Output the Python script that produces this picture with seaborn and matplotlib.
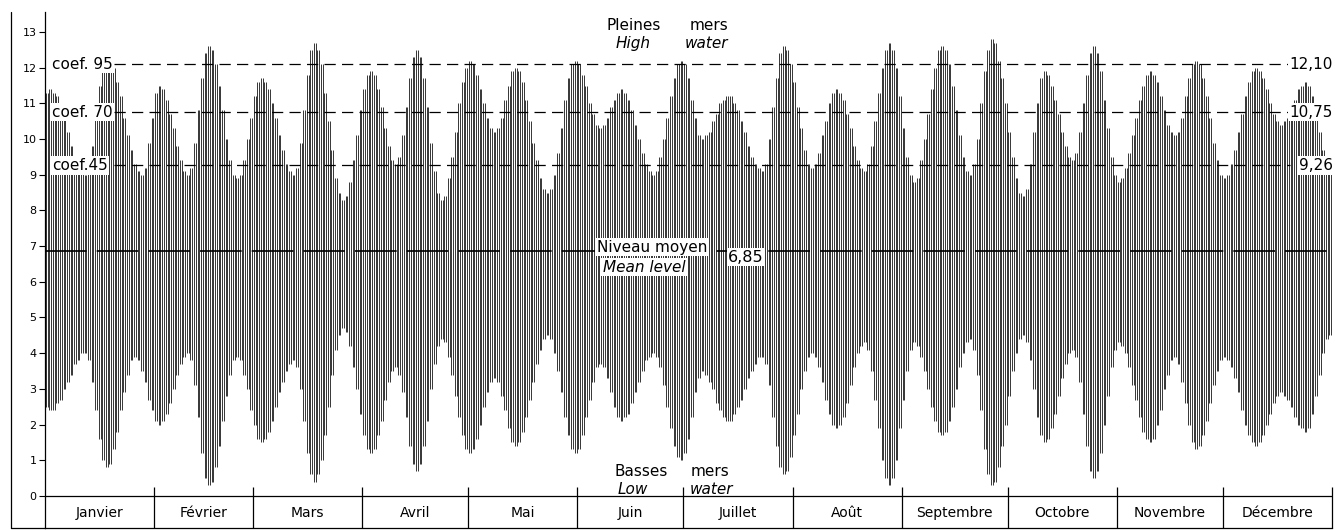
import numpy as np
import pandas as pd
import seaborn as sns
import matplotlib
matplotlib.use("Agg")
import matplotlib.pyplot as plt
from matplotlib.lines import Line2D

# Mois / months
months = ["Janvier", "Février", "Mars", "Avril", "Mai", "Juin", "Juillet",
          "Août", "Septembre", "Octobre", "Novembre", "Décembre"]
month_days = [31, 28, 31, 30, 31, 30, 31, 31, 30, 31, 30, 31]

# Pleines mers (m), une valeur par jour
high_jan = [11.3, 11.4, 11.3, 11.2, 10.9, 10.6, 10.2, 9.8, 9.5, 9.2, 9.1, 9.0, 9.2, 9.8, 10.6, 11.5,
            12.1, 12.3, 12.2, 12.0, 11.6, 11.2, 10.6, 10.1, 9.7, 9.3, 9.1, 9.0, 9.2, 9.9, 10.6]
high_feb = [11.3, 11.5, 11.4, 11.1, 10.7, 10.3, 9.8, 9.4, 9.1, 9.0, 9.2, 9.9, 10.8, 11.7, 12.4, 12.6,
            12.5, 12.1, 11.5, 10.8, 10.0, 9.4, 9.0, 8.9, 9.0, 9.4, 10.0, 10.6]
high_mar = [11.2, 11.6, 11.7, 11.6, 11.4, 11.0, 10.6, 10.1, 9.7, 9.3, 9.1, 9.0, 9.2, 9.9, 10.8, 11.8,
            12.5, 12.7, 12.5, 12.1, 11.3, 10.5, 9.7, 8.9, 8.5, 8.3, 8.4, 8.8, 9.4, 10.1, 10.8]
high_apr = [11.4, 11.8, 11.9, 11.8, 11.4, 10.9, 10.3, 9.8, 9.4, 9.3, 9.5, 10.1, 10.9, 11.7, 12.3,
            12.5, 12.3, 11.7, 10.9, 9.9, 9.1, 8.5, 8.3, 8.4, 8.9, 9.5, 10.2, 11.0, 11.6, 12.0]
high_may = [12.2, 12.1, 11.8, 11.4, 11.0, 10.6, 10.3, 10.2, 10.3, 10.6, 11.1, 11.5, 11.9, 12.0, 11.9,
            11.6, 11.1, 10.5, 9.9, 9.4, 8.9, 8.6, 8.5, 8.6, 9.0, 9.6, 10.3, 11.1, 11.7, 12.1, 12.2]
high_jun = [12.1, 11.8, 11.5, 11.0, 10.7, 10.4, 10.3, 10.4, 10.6, 10.9, 11.1, 11.3, 11.4, 11.3, 11.1,
            10.8, 10.4, 10.0, 9.6, 9.3, 9.1, 9.0, 9.1, 9.5, 10.0, 10.6, 11.2, 11.7, 12.1, 12.2]
high_jul = [12.1, 11.7, 11.1, 10.6, 10.1, 10.0, 10.1, 10.2, 10.5, 10.7, 11.0, 11.1, 11.2, 11.2, 11.0,
            10.8, 10.5, 10.2, 9.8, 9.5, 9.3, 9.2, 9.1, 9.3, 10.0, 10.9, 11.7, 12.4, 12.6, 12.5, 12.1]
high_aug = [11.6, 10.9, 10.3, 9.7, 9.3, 9.2, 9.3, 9.6, 10.1, 10.5, 11.0, 11.3, 11.4, 11.3, 11.1, 10.7,
            10.3, 9.8, 9.4, 9.2, 9.1, 9.3, 9.8, 10.5, 11.3, 12.0, 12.5, 12.7, 12.5, 12.0, 11.2]
high_sep = [10.3, 9.5, 9.0, 8.8, 8.9, 9.4, 10.0, 10.7, 11.4, 12.0, 12.5, 12.6, 12.5, 12.1, 11.5, 10.8,
            10.1, 9.5, 9.1, 9.0, 9.3, 10.0, 11.0, 11.9, 12.5, 12.8, 12.7, 12.2, 11.7, 11.0]
high_oct = [10.2, 9.5, 8.9, 8.5, 8.4, 8.6, 9.3, 10.2, 11.0, 11.7, 11.9, 11.8, 11.5, 11.1, 10.7, 10.2,
            9.8, 9.5, 9.4, 9.6, 10.2, 11.0, 11.8, 12.4, 12.6, 12.4, 11.9, 11.1, 10.3, 9.5, 9.0]
high_nov = [8.8, 8.9, 9.2, 9.6, 10.1, 10.6, 11.1, 11.5, 11.8, 11.9, 11.8, 11.6, 11.2, 10.8, 10.4, 10.2,
            10.1, 10.2, 10.6, 11.2, 11.7, 12.1, 12.2, 12.1, 11.7, 11.2, 10.6, 9.9, 9.4, 9.0]
high_dec = [8.9, 9.0, 9.3, 9.7, 10.2, 10.7, 11.2, 11.6, 11.9, 12.0, 11.9, 11.7, 11.4, 11.0, 10.7, 10.5,
            10.4, 10.5, 10.6, 10.9, 11.1, 11.4, 11.5, 11.6, 11.5, 11.2, 10.7, 10.2, 9.7, 9.4, 9.3]

# Basses mers (m)
low_jan = [2.5, 2.4, 2.4, 2.6, 2.7, 3.0, 3.2, 3.4, 3.7, 3.8, 4.0, 4.0, 3.8, 3.2, 2.4, 1.6, 1.0, 0.8,
           0.9, 1.3, 1.8, 2.4, 2.9, 3.4, 3.8, 3.9, 3.8, 3.5, 3.2, 2.7, 2.4]
low_feb = [2.1, 2.0, 2.1, 2.3, 2.6, 3.0, 3.4, 3.7, 3.9, 4.0, 3.8, 3.1, 2.2, 1.2, 0.5, 0.3, 0.4, 0.8,
           1.4, 2.1, 2.8, 3.4, 3.8, 3.9, 3.8, 3.4, 3.0, 2.4]
low_mar = [2.0, 1.6, 1.5, 1.6, 1.8, 2.1, 2.5, 2.9, 3.2, 3.5, 3.7, 3.8, 3.6, 3.0, 2.1, 1.2, 0.6, 0.4,
           0.6, 1.0, 1.7, 2.5, 3.4, 4.1, 4.5, 4.7, 4.6, 4.2, 3.6, 3.0, 2.3]
low_apr = [1.7, 1.3, 1.2, 1.3, 1.7, 2.1, 2.7, 3.2, 3.5, 3.6, 3.4, 2.9, 2.2, 1.4, 0.9, 0.7, 0.9, 1.4,
           2.1, 3.0, 3.7, 4.2, 4.4, 4.3, 3.9, 3.4, 2.8, 2.2, 1.7, 1.3]
low_may = [1.2, 1.3, 1.6, 2.0, 2.5, 2.9, 3.2, 3.3, 3.2, 2.8, 2.4, 1.9, 1.5, 1.4, 1.5, 1.8, 2.2, 2.7,
           3.2, 3.7, 4.1, 4.4, 4.5, 4.4, 4.0, 3.5, 2.9, 2.2, 1.7, 1.3, 1.2]
low_jun = [1.3, 1.7, 2.2, 2.7, 3.2, 3.6, 3.7, 3.6, 3.3, 2.9, 2.5, 2.2, 2.1, 2.2, 2.3, 2.6, 2.9, 3.2,
           3.5, 3.8, 3.9, 4.0, 3.9, 3.6, 3.1, 2.5, 1.9, 1.4, 1.1, 1.0]
low_jul = [1.2, 1.6, 2.2, 2.9, 3.3, 3.5, 3.4, 3.2, 3.0, 2.6, 2.4, 2.2, 2.1, 2.1, 2.3, 2.5, 2.7, 3.0,
           3.3, 3.5, 3.7, 3.9, 3.9, 3.7, 3.1, 2.2, 1.4, 0.8, 0.6, 0.7, 1.1]
low_aug = [1.7, 2.3, 3.0, 3.5, 3.9, 4.0, 3.9, 3.6, 3.2, 2.7, 2.3, 2.0, 1.9, 2.0, 2.2, 2.6, 3.1, 3.6,
           4.0, 4.2, 4.3, 4.1, 3.5, 2.7, 1.9, 1.0, 0.5, 0.3, 0.5, 1.0, 1.9]
low_sep = [2.7, 3.5, 4.1, 4.3, 4.2, 3.9, 3.5, 3.0, 2.5, 2.1, 1.8, 1.7, 1.8, 2.1, 2.5, 3.0, 3.6, 4.0,
           4.3, 4.4, 4.1, 3.4, 2.4, 1.3, 0.6, 0.3, 0.4, 0.8, 1.4, 2.0]
low_oct = [2.8, 3.5, 4.0, 4.4, 4.5, 4.3, 3.8, 3.0, 2.2, 1.7, 1.5, 1.6, 1.9, 2.3, 2.8, 3.3, 3.7, 4.0,
           4.1, 3.9, 3.2, 2.3, 1.4, 0.7, 0.5, 0.7, 1.2, 2.0, 2.8, 3.6, 4.1]
low_nov = [4.3, 4.2, 4.0, 3.6, 3.1, 2.7, 2.2, 1.8, 1.6, 1.5, 1.6, 2.0, 2.4, 3.0, 3.4, 3.8, 3.9, 3.7,
           3.2, 2.6, 2.0, 1.5, 1.3, 1.4, 1.7, 2.1, 2.6, 3.1, 3.5, 3.8]
low_dec = [3.9, 3.8, 3.6, 3.3, 2.9, 2.4, 2.0, 1.7, 1.5, 1.4, 1.5, 1.7, 2.0, 2.3, 2.6, 2.8, 2.9, 2.8,
           2.7, 2.5, 2.2, 2.0, 1.9, 1.8, 1.9, 2.3, 2.8, 3.4, 4.0, 4.4, 4.5]

coef_levels = [12.10, 10.75, 9.26]
coef_labels = ["coef. 95", "coef. 70", "coef.45"]
level_labels = ["12,10", "10,75", "9,26"]
mean_level = 6.85

# %%
highs = (high_jan + high_feb + high_mar + high_apr + high_may + high_jun
         + high_jul + high_aug + high_sep + high_oct + high_nov + high_dec)
lows = (low_jan + low_feb + low_mar + low_apr + low_may + low_jun
        + low_jul + low_aug + low_sep + low_oct + low_nov + low_dec)
df = pd.DataFrame({"jour": np.arange(len(highs)) + 0.5, "pm": highs, "bm": lows})

bounds = np.concatenate([[0], np.cumsum(month_days)])
mids = (bounds[:-1] + bounds[1:]) / 2

sns.set_theme(style="ticks")
plt.rcParams["font.family"] = ["DejaVu Sans"]
plt.rcParams["text.color"] = "black"
plt.rcParams["ytick.color"] = "black"
plt.rcParams["ytick.labelcolor"] = "black"

W, H = 1335, 530
fig = plt.figure(figsize=(W / 100, H / 100), dpi=100)
ax = fig.add_axes([45 / W, 2 / H, 1287 / W, 516 / H])

# deux marees par jour : un trait de la basse mer a la pleine mer
for dx in (-0.25, 0.25):
    ax.vlines(df["jour"] + dx, df["bm"], df["pm"], color="black", lw=0.55, zorder=2)

ax.set_xlim(0, 365)
ax.set_ylim(-0.9, 13.56)
ax.set_yticks(range(14))
ax.set_xticks([])
ax.tick_params(axis="y", direction="out", length=4, width=0.8, labelsize=8, pad=2,
               colors="black")
sns.despine(ax=ax, top=True, right=True)
for s in ["left", "bottom"]:
    ax.spines[s].set_linewidth(0.9)
    ax.spines[s].set_color("black")

# axe des mois
ax.axhline(0, color="black", lw=0.9, zorder=3)
ax.vlines(bounds[1:], -0.9, 0.25, color="black", lw=0.9, clip_on=False, zorder=3)
for m, x in zip(months, mids):
    ax.text(x, -0.47, m, ha="center", va="center", fontsize=10)

# niveaux de coefficient et niveau moyen
ax.hlines(coef_levels, 19.5, 353, colors="black", lw=0.9,
          linestyles=[(0, (9, 5))], zorder=4)
ax.hlines(mean_level, 0, 365, colors="black", lw=1.2,
          linestyles=[(0, (25, 6))], zorder=4)

box = dict(facecolor="white", edgecolor="none", pad=1.2)
for lev, lab, rlab in zip(coef_levels, coef_labels, level_labels):
    ax.text(2.0, lev, lab, ha="left", va="center", fontsize=11, bbox=box, zorder=5)
    ax.text(365.3, lev, rlab, ha="right", va="center", fontsize=11, bbox=box,
            zorder=5, clip_on=False)

ax.text(156.5, 6.97, "Niveau moyen", ha="left", va="center", fontsize=11, bbox=box, zorder=5)
ax.text(158.2, 6.41, "Mean level", ha="left", va="center", fontsize=11,
        style="italic", bbox=box, zorder=5)
ax.text(198.8, 6.69, "6,85", ha="center", va="center", fontsize=11.5, bbox=box, zorder=5)

ax.text(167.0, 13.19, "Pleines", ha="center", va="center", fontsize=11)
ax.text(188.3, 13.19, "mers", ha="center", va="center", fontsize=11)
ax.text(166.8, 12.69, "High", ha="center", va="center", fontsize=11, style="italic")
ax.text(187.7, 12.69, "water", ha="center", va="center", fontsize=11, style="italic")

ax.text(169.0, 0.67, "Basses", ha="center", va="center", fontsize=11)
ax.text(188.6, 0.67, "mers", ha="center", va="center", fontsize=11)
ax.text(166.8, 0.17, "Low", ha="center", va="center", fontsize=11, style="italic")
ax.text(188.9, 0.17, "water", ha="center", va="center", fontsize=11, style="italic")

# cadre exterieur
fig.add_artist(Line2D([11 / W, 11 / W], [2 / H, 518 / H], color="black", lw=0.9))
fig.add_artist(Line2D([11 / W, 45 / W], [2 / H, 2 / H], color="black", lw=0.9))

fig.savefig("out.png", dpi=100, facecolor="white")
